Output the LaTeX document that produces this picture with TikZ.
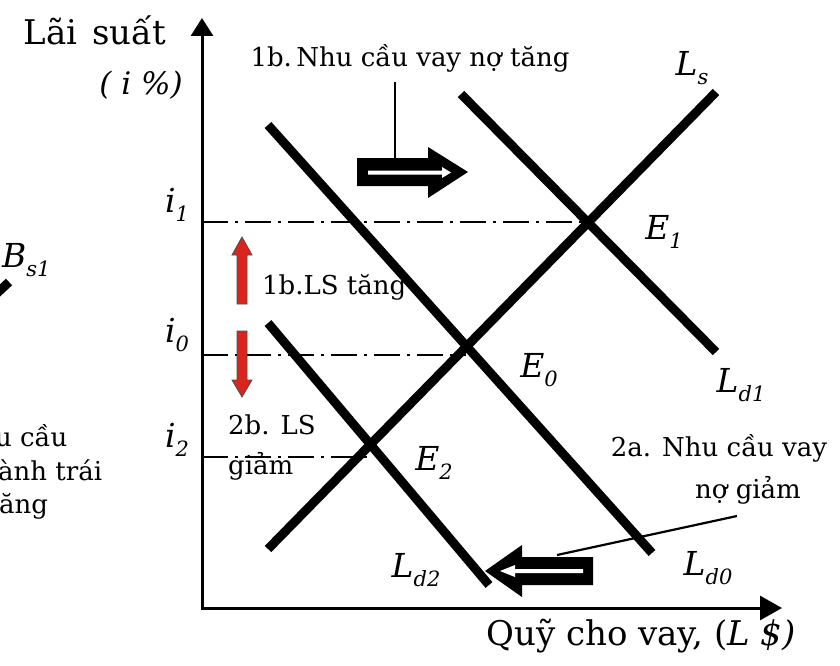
\documentclass[tikz,border=0pt]{standalone}
\usepackage{fontspec}
\setmainfont{DejaVu Serif}
\usetikzlibrary{arrows.meta}
\definecolor{myred}{RGB}{218,36,30}
\newcommand\mylab[2]{\textit{#1}\raisebox{-0.28em}{\fontsize{21}{21}\selectfont\textit{#2}}}
\begin{document}
\begin{tikzpicture}[x=1pt,y=-1pt,
  curve/.style={line width=9pt},
  axis/.style={line width=3pt},
  guide/.style={line width=2.8pt, dash pattern=on 26pt off 7pt on 3pt off 7pt},
  txt/.style={font=\fontsize{26}{30}\selectfont, inner sep=0pt},
  big/.style={font=\fontsize{34}{38}\selectfont, inner sep=0pt},
  sym/.style={font=\fontsize{33}{36}\selectfont, inner sep=0pt},
  leader/.style={line width=2.2pt},
  redarrow/.style={fill=myred, draw=black!70, line width=0.8pt}]
\useasboundingbox (0,0) rectangle (840,666);
% axes
\coordinate (Ybot) at (202,610);
\coordinate (Ytop) at (202,18);
\coordinate (Xbeg) at (200.5,608);
\coordinate (Xend) at (782,608);
\draw[axis, -{Triangle[length=18pt,width=22pt]}] (Ybot) -- (Ytop);
\draw[axis, -{Triangle[length=22pt,width=24pt]}] (Xbeg) -- (Xend);
% guide lines
\coordinate (g1a) at (202,222); \coordinate (E1) at (590,222);
\coordinate (g0a) at (202,355); \coordinate (E0) at (466,355);
\coordinate (g2a) at (202,457); \coordinate (E2) at (372,457);
\draw[guide] (g1a) -- (E1);
\draw[guide] (g0a) -- (E0);
\draw[guide] (g2a) -- (E2);
% curves
\coordinate (Lsa) at (268,549); \coordinate (Lsb) at (716,92);
\coordinate (Ld1a) at (461,94); \coordinate (Ld1b) at (716,352);
\coordinate (Ld0a) at (268,125); \coordinate (Ld0b) at (652,553);
\coordinate (Ld2a) at (268,323); \coordinate (Ld2b) at (489,585);
\draw[curve] (Lsa) -- (Lsb);
\draw[curve] (Ld1a) -- (Ld1b);
\draw[curve] (Ld0a) -- (Ld0b);
\draw[curve] (Ld2a) -- (Ld2b);
% fat arrows
\fill (357,158) -- (428,158) -- (428,147) -- (468,172) -- (428,198) -- (428,186) -- (357,186) -- cycle;
\fill[white] (368,170.5) -- (442,170.5) -- (442,167) -- (451,172.5) -- (442,178) -- (442,174.5) -- (368,174.5) -- cycle;
\fill (593,557) -- (522,557) -- (522,545) -- (485,571) -- (522,597) -- (522,585) -- (593,585) -- cycle;
\fill[white] (583,569) -- (515,569) -- (515,565) -- (500,571) -- (515,577) -- (515,573) -- (583,573) -- cycle;
% leaders
\coordinate (l1a) at (395,82); \coordinate (l1b) at (395,158);
\draw[leader] (l1a) -- (l1b);
\coordinate (l2a) at (557,555); \coordinate (l2b) at (737,516);
\draw[leader] (l2a) -- (l2b);
% red arrows
\draw[redarrow] (237,304) -- (237,255) -- (232,255) -- (242,237) -- (252,255) -- (247,255) -- (247,304) -- cycle;
\draw[redarrow] (237,331) -- (237,380) -- (232,380) -- (242,397) -- (252,380) -- (247,380) -- (247,331) -- cycle;
% left partial
\coordinate (bsa) at (-6,296); \coordinate (bsb) at (9,282);
\draw[curve] (bsa) -- (bsb);
\node[sym, anchor=west] (bs1) at (2,260) {\mylab{B}{s1}};
\node[txt, anchor=west] (p1) at (-5,436) {u cầu};
\node[txt, anchor=west] (p2) at (-2,470) {ành trái};
\node[txt, anchor=west] (p3) at (-1,506) {ăng};
% texts
\node[big] (ylab) at (95,30) {Lãi\hspace{0.45em}suất};
\node[font=\itshape\fontsize{31}{34}\selectfont, inner sep=0pt] (yunit) at (141,85) {( i \%)};
\node[big] (xlab) at (641,636) {Quỹ cho vay, (\textit{L \$)}};
\node[txt] (n1b) at (410,58) {1b.\,Nhu cầu vay nợ tăng};
\node[txt, anchor=west] (ls1) at (262,287) {1b.LS tăng};
\node[txt, anchor=west] (ls2a) at (228,425) {2b. LS};
\node[txt, anchor=west] (ls2b) at (228,466) {giảm};
\node[txt] (n2a1) at (719,448) {2a. Nhu cầu vay};
\node[txt] (n2a2) at (748,490) {nợ giảm};
\node[sym] (i1) at (177,205) {\mylab{i}{1}};
\node[sym] (i0) at (177,335) {\mylab{i}{0}};
\node[sym] (i2) at (177,440) {\mylab{i}{2}};
\node[sym] (e1) at (664,232) {\mylab{E}{1}};
\node[sym] (e0) at (539,370) {\mylab{E}{0}};
\node[sym] (e2) at (434,463) {\mylab{E}{2}};
\node[sym] (ls) at (692,68) {\mylab{L}{s}};
\node[sym] (ld1) at (741,385) {\mylab{L}{d1}};
\node[sym] (ld0) at (708,568) {\mylab{L}{d0}};
\node[sym] (ld2) at (416,570) {\mylab{L}{d2}};
\end{tikzpicture}
\end{document}
